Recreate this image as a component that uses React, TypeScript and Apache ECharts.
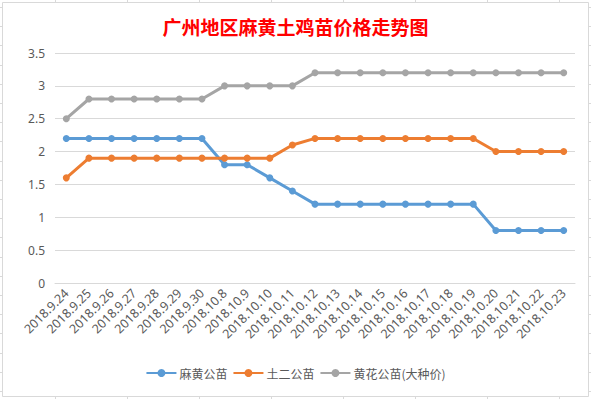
import React, { useEffect, useRef } from "react";
import * as echarts from "echarts";

const categories = [
  "2018.9.24", "2018.9.25", "2018.9.26", "2018.9.27", "2018.9.28", "2018.9.29", "2018.9.30",
  "2018.10.8", "2018.10.9", "2018.10.10", "2018.10.11", "2018.10.12", "2018.10.13", "2018.10.14",
  "2018.10.15", "2018.10.16", "2018.10.17", "2018.10.18", "2018.10.19", "2018.10.20", "2018.10.21",
  "2018.10.22", "2018.10.23",
];
const mahuang = [2.2, 2.2, 2.2, 2.2, 2.2, 2.2, 2.2, 1.8, 1.8, 1.6, 1.4, 1.2, 1.2, 1.2, 1.2, 1.2, 1.2, 1.2, 1.2, 0.8, 0.8, 0.8, 0.8];
const tuer = [1.6, 1.9, 1.9, 1.9, 1.9, 1.9, 1.9, 1.9, 1.9, 1.9, 2.1, 2.2, 2.2, 2.2, 2.2, 2.2, 2.2, 2.2, 2.2, 2.0, 2.0, 2.0, 2.0];
const huanghua = [2.5, 2.8, 2.8, 2.8, 2.8, 2.8, 2.8, 3.0, 3.0, 3.0, 3.0, 3.2, 3.2, 3.2, 3.2, 3.2, 3.2, 3.2, 3.2, 3.2, 3.2, 3.2, 3.2];
const seriesNames = ["麻黄公苗", "土二公苗", "黄花公苗(大种价)"];
const colors = ["#5B9BD5", "#ED7D31", "#A5A5A5"];

const W = 591;
const H = 399;

export default function App() {
  const ref = useRef<HTMLDivElement>(null);
  useEffect(() => {
    if (!ref.current) return;
    const chart = echarts.init(ref.current, null, { renderer: "svg" });
    const frame = "#D9D9D9";
    const stubs: any[] = [];
    [55, 127, 199, 271, 343, 415, 487, 559].forEach((x) => {
      stubs.push({ type: "line", shape: { x1: x + 0.5, y1: 0, x2: x + 0.5, y2: 2 }, style: { stroke: frame, lineWidth: 1 }, silent: true });
      stubs.push({ type: "line", shape: { x1: x + 0.5, y1: 397, x2: x + 0.5, y2: 399 }, style: { stroke: frame, lineWidth: 1 }, silent: true });
    });
    for (let y = 7; y < 399; y += 19.2) {
      const yy = Math.round(y) + 0.5;
      stubs.push({ type: "line", shape: { x1: 0, y1: yy, x2: 2, y2: yy }, style: { stroke: frame, lineWidth: 1 }, silent: true });
      stubs.push({ type: "line", shape: { x1: 589, y1: yy, x2: 591, y2: yy }, style: { stroke: frame, lineWidth: 1 }, silent: true });
    }
    const mkSeries = (name: string, data: number[], color: string) => ({
      name,
      type: "line",
      data,
      symbol: "circle",
      symbolSize: 7,
      lineStyle: { width: 3, color },
      itemStyle: { color },
      z: 3,
    });
    chart.setOption({
      animation: false,
      backgroundColor: "#FFFFFF",
      color: colors,
      title: {
        text: "广州地区麻黄土鸡苗价格走势图",
        left: "center",
        top: 12,
        textStyle: {
          color: "#FF0000",
          fontSize: 19,
          fontWeight: "bold",
          fontFamily: "Noto Sans CJK SC",
        },
      },
      legend: {
        bottom: 15,
        left: "center",
        itemWidth: 30,
        itemHeight: 10,
        itemGap: 5,
        textStyle: { color: "#595959", fontSize: 12, fontFamily: "Noto Sans CJK SC", padding: [0, 0, 0, -2] },
        data: seriesNames,
      },
      grid: { left: 55, right: 16, top: 53, bottom: 116, containLabel: false },
      xAxis: {
        type: "category",
        data: categories,
        boundaryGap: true,
        axisLine: { show: true, lineStyle: { color: "#D9D9D9", width: 1 } },
        axisTick: { show: false },
        axisLabel: {
          rotate: 45,
          interval: 0,
          margin: 8,
          color: "#595959",
          fontSize: 12.5,
          fontFamily: "Noto Sans",
        },
      },
      yAxis: {
        type: "value",
        min: 0,
        max: 3.5,
        interval: 0.5,
        axisLine: { show: false },
        axisTick: { show: false },
        splitLine: { lineStyle: { color: "#D9D9D9", width: 1 } },
        axisLabel: {
          margin: 10,
          color: "#595959",
          fontSize: 12,
          fontFamily: "Noto Sans",
          formatter: (v: number) => String(v),
        },
      },
      graphic: [
        { type: "rect", shape: { x: 2.5, y: 2.5, width: 586, height: 394 }, style: { fill: "none", stroke: frame, lineWidth: 1 }, silent: true, z: 10 },
        ...stubs,
      ],
      series: [
        mkSeries(seriesNames[0], mahuang, colors[0]),
        mkSeries(seriesNames[1], tuer, colors[1]),
        mkSeries(seriesNames[2], huanghua, colors[2]),
      ],
    });
    return () => chart.dispose();
  }, []);
  return (
    <div
      ref={ref}
      style={{ position: "fixed", left: 0, top: 0, width: W, height: H, background: "#fff" }}
    />
  );
}
